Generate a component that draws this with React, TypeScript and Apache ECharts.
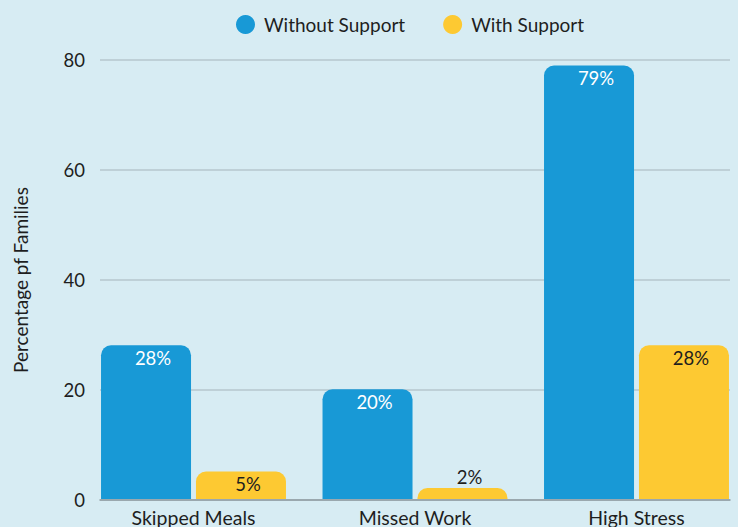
import React, { useEffect, useRef } from "react";
import * as echarts from "echarts";

const categories = ["Skipped Meals", "Missed Work", "High Stress"];
const withoutSupport = [28, 20, 79];
const withSupport = [5, 2, 28];
const seriesNames = ["Without Support", "With Support"];
const yTicks = { min: 0, max: 80, interval: 20 };

const BLUE = "#1899d6";
const YELLOW = "#fdc932";
const FONT = "Lato";
const INK = "#1e1e1e";

export default function App() {
  const ref = useRef<HTMLDivElement>(null);
  useEffect(() => {
    document.body.style.margin = "0";
    const chart = echarts.init(ref.current!, undefined, { renderer: "svg" });
    const labelBase = {
      show: true,
      fontFamily: FONT,
      fontSize: 18.5,
      formatter: "{c}%",
      offset: [7, 0],
    };
    chart.setOption({
      animation: false,
      backgroundColor: "#d7ecf3",
      textStyle: { fontFamily: FONT },
      legend: {
        top: 10,
        left: 231,
        icon: "circle",
        itemWidth: 19,
        itemHeight: 19,
        itemGap: 38,
        textStyle: { fontFamily: FONT, fontSize: 19, color: INK, padding: [0, 0, 0, 4] },
        data: seriesNames,
      },
      grid: [
        { left: 100, right: 8, top: 60, bottom: 27 },
        { left: 193.5, right: 101.5, top: 60, bottom: 27 },
      ],
      xAxis: [
        {
          gridIndex: 0,
          type: "category",
          data: categories,
          axisLine: { show: true, lineStyle: { color: "#8e9ba1", width: 1.5 } },
          axisTick: { show: false },
          axisLabel: { show: false },
        },
        {
          gridIndex: 1,
          type: "category",
          boundaryGap: false,
          data: categories,
          axisLine: { show: false },
          axisTick: { show: false },
          axisLabel: { fontFamily: FONT, fontSize: 19.5, color: INK, margin: 8 },
        },
      ],
      yAxis: [
        {
          gridIndex: 0,
          type: "value",
          ...yTicks,
          name: "Percentage pf Families",
          nameLocation: "middle",
          nameGap: 70,
          nameRotate: 90,
          nameTextStyle: { fontFamily: FONT, fontSize: 19, color: INK },
          axisLine: { show: false },
          axisTick: { show: false },
          axisLabel: { fontFamily: FONT, fontSize: 18.5, color: INK, margin: 15 },
          splitLine: { lineStyle: { color: "#b6c7ce", width: 1.5 } },
        },
        {
          gridIndex: 1,
          type: "value",
          ...yTicks,
          show: false,
          splitLine: { show: false },
        },
      ],
      series: [
        {
          name: seriesNames[0],
          type: "bar",
          xAxisIndex: 1,
          yAxisIndex: 1,
          clip: false,
          barWidth: 90,
          barGap: "5.5%",
          itemStyle: { color: BLUE, borderRadius: [10, 10, 0, 0] },
          label: { ...labelBase, position: "insideTop", distance: 3, color: "#ffffff" },
          data: withoutSupport,
        },
        {
          name: seriesNames[1],
          type: "bar",
          xAxisIndex: 1,
          yAxisIndex: 1,
          clip: false,
          barWidth: 90,
          itemStyle: { color: YELLOW, borderRadius: [10, 10, 0, 0] },
          label: { ...labelBase, position: "insideTop", distance: 3, color: INK },
          data: withSupport.map((v) =>
            v < 4 ? { value: v, label: { position: "top", distance: 2 } } : v
          ),
        },
      ],
    });
    return () => chart.dispose();
  }, []);
  return <div ref={ref} style={{ width: 738, height: 527 }} />;
}
